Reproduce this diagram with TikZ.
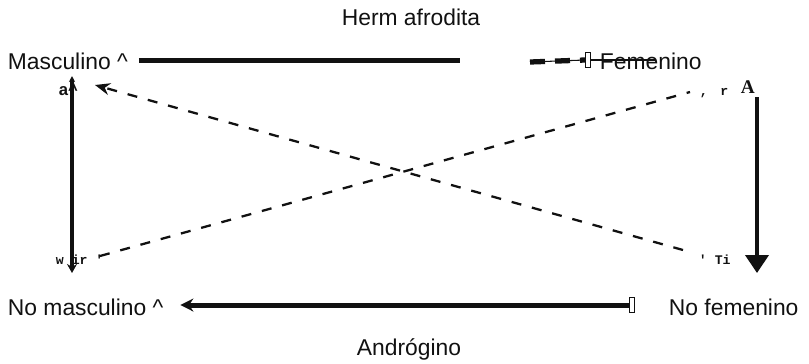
\documentclass[tikz,border=0pt]{standalone}
\usepackage{fontspec}
\setmainfont{Liberation Sans}
\newfontfamily\ocrmono{Liberation Mono}
\newfontfamily\ocrserif{Liberation Serif}
\usetikzlibrary{arrows.meta, positioning}
\definecolor{cink}{HTML}{111111}
\definecolor{cgrey}{HTML}{6B6B6B}
\tikzset{
  every picture/.style={x=0.02cm, y=-0.02cm, line width=1.1pt},
  term/.style={font=\fontsize{13}{15}\selectfont, text=cink, inner sep=0pt, anchor=base west},
  scrap/.style={font=\ocrmono\bfseries\fontsize{7.5}{8}\selectfont, text=cink, inner sep=0pt, anchor=base west},
  bar/.style={draw=cink, line width=0.1cm},
  dashline/.style={draw=cink, line width=1.3pt, dash pattern=on 0.2cm off 0.22cm},
  glyph/.style={draw=cink, line width=0.5pt, minimum width=0.1cm, minimum height=0.3cm, inner sep=0pt},
}

\begin{document}
\begin{tikzpicture}
  \useasboundingbox (0,0) rectangle (809,363);
  % the four terms of the square and the two names above and below
  \node[term, anchor=base] (herm) at (411,25) {Herm afrodita};
  \node[term] (masc) at (7,69) {Masculino \textasciicircum};
  \node[term] (fem) at (599,69) {Femenino};
  \node[term] (nomasc) at (7,315) {No masculino \textasciicircum};
  \node[term] (nofem) at (668,315) {No femenino};
  \node[term, anchor=base] (andro) at (409,355) {Andrógino};
  % stray marks of the scan
  \node[scrap, font=\bfseries\fontsize{9.5}{10}\selectfont] (sa) at (58,95) {a\textasciicircum};
  \node[scrap] (sw) at (55,264) {w ir '};
  \node[scrap] (st) at (698,264) {' Ti};
  \node[scrap] (sr) at (699,95) {,\hspace{0.25cm}r};
  \node[scrap, font=\ocrserif\bfseries\fontsize{11}{12}\selectfont] (sA) at (740,93) {A};
  \node[glyph] (tbox) at (588,60) {};
  \node[glyph] (bbox) at (632,305) {};
  % horizontal bars
  \coordinate (topcut) at (460,62);
  \coordinate (topresume) at (530,62);
  \draw[bar, shorten <=0.2cm] (masc.east) -- (masc.east -| topcut);
  \draw[cink, line width=0.6pt] (topresume) -- (tbox.west);
  \draw[bar, line width=3pt, dash pattern=on 0.3cm off 0.2cm] (topresume) -- (tbox.west);
  \draw[cink, line width=0.6pt] (tbox.east) -- ++(65,0);
  \draw[bar, -{Stealth[length=0.26cm, width=0.26cm]}, shorten >=0.32cm] (bbox.west) -- (bbox.west -| nomasc.east);
  % vertical arrows
  \coordinate (ltop) at (72,76);
  \coordinate (lbot) at (72,273);
  \draw[cink, line width=0.065cm, {Stealth[length=0.12cm, width=0.12cm]}-{Stealth[length=0.18cm, width=0.2cm]}] (ltop) -- (lbot);
  \coordinate (rtop) at (757,97);
  \coordinate (rbot) at (757,273);
  \draw[cink, line width=0.08cm, -{Triangle[length=0.36cm, width=0.46cm]}] (rtop) -- (rbot);
  % the two dashed diagonals
  \coordinate (d1s) at (683,250);
  \coordinate (d1e) at (95,85);
  \draw[dashline, -{Stealth[length=0.3cm, width=0.24cm]}] (d1s) -- (d1e);
  \coordinate (d2s) at (100,256);
  \coordinate (d2e) at (690,92);
  \draw[dashline] (d2s) -- (d2e);
\end{tikzpicture}
\end{document}
